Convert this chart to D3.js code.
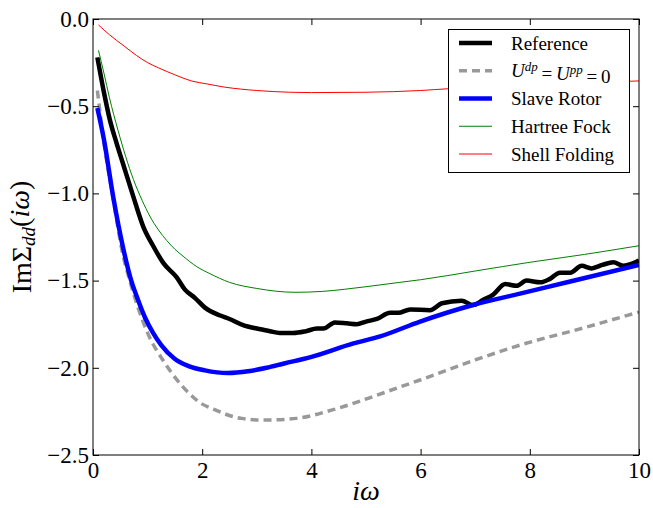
<!DOCTYPE html>
<html>
<head>
<meta charset="utf-8">
<script src="https://cdn.jsdelivr.net/npm/d3@7"></script>
<style>
  body { margin: 0; background: #fff; }
</style>
</head>
<body>
<div id="chart"></div>
<script>
// Data: [iω, ImΣ]
const reference = [[0.08,-0.22],[0.2,-0.42],[0.31,-0.58],[0.43,-0.71],[0.55,-0.83],[0.74,-1.02],[0.92,-1.19],[1.1,-1.30],[1.29,-1.40],[1.53,-1.48],[1.68,-1.55],[1.87,-1.60],[2.05,-1.655],[2.33,-1.70],[2.5,-1.72],[2.75,-1.755],[3.0,-1.775],[3.24,-1.79],[3.42,-1.80],[3.67,-1.80],[3.9,-1.79],[4.1,-1.775],[4.22,-1.775],[4.43,-1.74],[4.65,-1.745],[4.83,-1.75],[5.0,-1.735],[5.2,-1.72],[5.44,-1.685],[5.59,-1.685],[5.81,-1.665],[6.17,-1.67],[6.39,-1.63],[6.75,-1.615],[6.96,-1.64],[7.15,-1.61],[7.33,-1.58],[7.55,-1.52],[7.76,-1.53],[7.94,-1.50],[8.19,-1.51],[8.37,-1.49],[8.55,-1.455],[8.74,-1.455],[8.95,-1.415],[9.13,-1.43],[9.33,-1.41],[9.53,-1.395],[9.71,-1.415],[9.9,-1.40],[10.0,-1.385]];
const noHopping = [[0.08,-0.41],[0.21,-0.73],[0.37,-1.03],[0.52,-1.31],[0.7,-1.53],[0.82,-1.65],[1.0,-1.80],[1.31,-1.97],[1.74,-2.14],[1.96,-2.20],[2.23,-2.24],[2.57,-2.28],[2.72,-2.29],[3.12,-2.30],[3.73,-2.29],[4.4,-2.24],[5.13,-2.165],[5.62,-2.11],[5.99,-2.07],[7.0,-1.955],[7.82,-1.87],[9.0,-1.77],[10.0,-1.68]];
const slaveRotor = [[0.08,-0.51],[0.2,-0.69],[0.37,-1.02],[0.55,-1.31],[0.7,-1.50],[0.8,-1.59],[0.95,-1.71],[1.1,-1.80],[1.25,-1.87],[1.5,-1.95],[1.75,-1.99],[2.05,-2.015],[2.47,-2.03],[2.84,-2.02],[3.18,-2.00],[3.5,-1.975],[3.97,-1.94],[4.77,-1.86],[5.26,-1.82],[5.99,-1.735],[6.96,-1.64],[7.82,-1.575],[8.74,-1.505],[10.0,-1.41]];
const hartreeFock = [[0.1,-0.18],[0.2,-0.31],[0.3,-0.45],[0.46,-0.64],[0.6,-0.79],[0.74,-0.92],[0.9,-1.04],[1.04,-1.13],[1.2,-1.21],[1.35,-1.27],[1.5,-1.32],[1.65,-1.36],[1.9,-1.42],[2.14,-1.46],[2.5,-1.51],[3.0,-1.545],[3.7,-1.567],[4.2,-1.562],[4.6,-1.55],[5.0,-1.535],[5.62,-1.51],[6.0,-1.495],[7.0,-1.445],[8.0,-1.395],[9.0,-1.35],[10.0,-1.30]];
const shellFolding = [[0.1,-0.034],[0.3,-0.09],[0.57,-0.155],[0.8,-0.21],[1.0,-0.25],[1.2,-0.28],[1.5,-0.32],[1.8,-0.355],[2.1,-0.373],[2.4,-0.39],[3.0,-0.41],[3.6,-0.42],[4.0,-0.422],[5.0,-0.42],[6.0,-0.41],[6.5,-0.40],[7.0,-0.395],[8.0,-0.38],[9.0,-0.367],[10.0,-0.355]];

const xTicks = [0, 2, 4, 6, 8, 10];
const yTicks = [0, -0.5, -1, -1.5, -2, -2.5];

const series = [
  { name: "Reference", data: reference, color: "#000", width: 4.5, dash: null },
  { name: "U=0", data: noHopping, color: "#999", width: 3.5, dash: "8,5" },
  { name: "Slave Rotor", data: slaveRotor, color: "#0000ff", width: 4.5, dash: null },
  { name: "Hartree Fock", data: hartreeFock, color: "#008000", width: 1, dash: null },
  { name: "Shell Folding", data: shellFolding, color: "#ff0000", width: 1, dash: null }
];

const FONT = "'Liberation Serif', 'Times New Roman', serif";
const W = 653, H = 508;
const margin = { top: 19, right: 14, bottom: 53, left: 93 };
const iw = W - margin.left - margin.right;
const ih = H - margin.top - margin.bottom;

const svg = d3.select("#chart").append("svg")
  .attr("width", W).attr("height", H)
  .style("font-family", FONT);
const g = svg.append("g").attr("transform", `translate(${margin.left},${margin.top})`);

const x = d3.scaleLinear().domain([0, 10]).range([0, iw]);
const y = d3.scaleLinear().domain([-2.5, 0]).range([ih, 0]);

g.append("clipPath").attr("id", "clip")
  .append("rect").attr("width", iw).attr("height", ih);

// lines
const line = d3.line().x(d => x(d[0])).y(d => y(d[1])).curve(d3.curveMonotoneX);
g.append("g").attr("clip-path", "url(#clip)")
  .selectAll("path").data(series).join("path")
  .attr("d", d => line(d.data))
  .attr("fill", "none")
  .attr("stroke", d => d.color)
  .attr("stroke-width", d => d.width)
  .attr("stroke-dasharray", d => d.dash)
  .attr("stroke-linejoin", "round");

// axes, ticks pointing inward
const tickFont = "23px";
const xb = g.append("g").attr("transform", `translate(0,${ih})`)
  .call(d3.axisBottom(x).tickValues(xTicks).tickFormat(d3.format("d")).tickSizeInner(-6).tickSizeOuter(0));
xb.selectAll("text").attr("y", 23).attr("dy", null);

g.append("g")
  .call(d3.axisLeft(y).tickValues(yTicks).tickFormat(d3.format(".1f")).tickSizeInner(-6).tickSizeOuter(0).tickPadding(4));

g.append("g").call(d3.axisTop(x).tickValues(xTicks).tickFormat("").tickSizeInner(-6).tickSizeOuter(0));
g.append("g").attr("transform", `translate(${iw},0)`)
  .call(d3.axisRight(y).tickValues(yTicks).tickFormat("").tickSizeInner(-6).tickSizeOuter(0));

g.selectAll(".domain").remove();
g.selectAll(".tick line").attr("stroke", "#000").attr("stroke-width", 1);
svg.selectAll("g").attr("font-family", null).attr("font-size", null);
g.selectAll(".tick text").style("font-family", FONT).style("font-size", tickFont).attr("fill", "#000");

g.append("rect").attr("width", iw).attr("height", ih)
  .attr("fill", "none").attr("stroke", "#000").attr("stroke-width", 1);

// axis labels
svg.append("text")
  .attr("x", margin.left + iw / 2).attr("y", 500)
  .attr("text-anchor", "middle")
  .style("font-family", FONT).style("font-size", "28px").style("font-style", "italic")
  .text("iω");

const ylab = svg.append("text")
  .attr("transform", `translate(31,${margin.top + ih / 2}) rotate(-90)`)
  .attr("text-anchor", "middle")
  .style("font-family", FONT).style("font-size", "28px");
ylab.append("tspan").text("ImΣ");
ylab.append("tspan").attr("dy", "0.22em").style("font-size", "19px").style("font-style", "italic").text("dd");
ylab.append("tspan").attr("dy", "-0.22em").text("(");
ylab.append("tspan").style("font-style", "italic").text("iω");
ylab.append("tspan").text(")");

// legend
const leg = svg.append("g");
leg.append("rect").attr("x", 448.5).attr("y", 29.5).attr("width", 181).attr("height", 143)
  .attr("fill", "#fff").attr("stroke", "#000").attr("stroke-width", 1);
const rowY = d3.scaleLinear().domain([0, 4]).range([43, 154]);
series.forEach((s, i) => {
  const yy = rowY(i);
  leg.append("line").attr("x1", 459).attr("x2", 492).attr("y1", yy).attr("y2", yy)
    .attr("stroke", s.color).attr("stroke-width", s.width).attr("stroke-dasharray", s.dash);
  const t = leg.append("text").attr("x", 511).attr("y", yy + 6.5)
    .style("font-family", FONT).style("font-size", "19px");
  if (i === 1) {
    t.append("tspan").style("font-style", "italic").text("U");
    t.append("tspan").attr("dy", "-0.45em").style("font-size", "13px").style("font-style", "italic").text("dp");
    t.append("tspan").attr("dy", "0.45em").text("\u2009=\u2009");
    t.append("tspan").style("font-style", "italic").text("U");
    t.append("tspan").attr("dy", "-0.45em").style("font-size", "13px").style("font-style", "italic").text("pp");
    t.append("tspan").attr("dy", "0.45em").text("\u2009=\u20090");
  } else {
    t.text(s.name);
  }
});
</script>
</body>
</html>
